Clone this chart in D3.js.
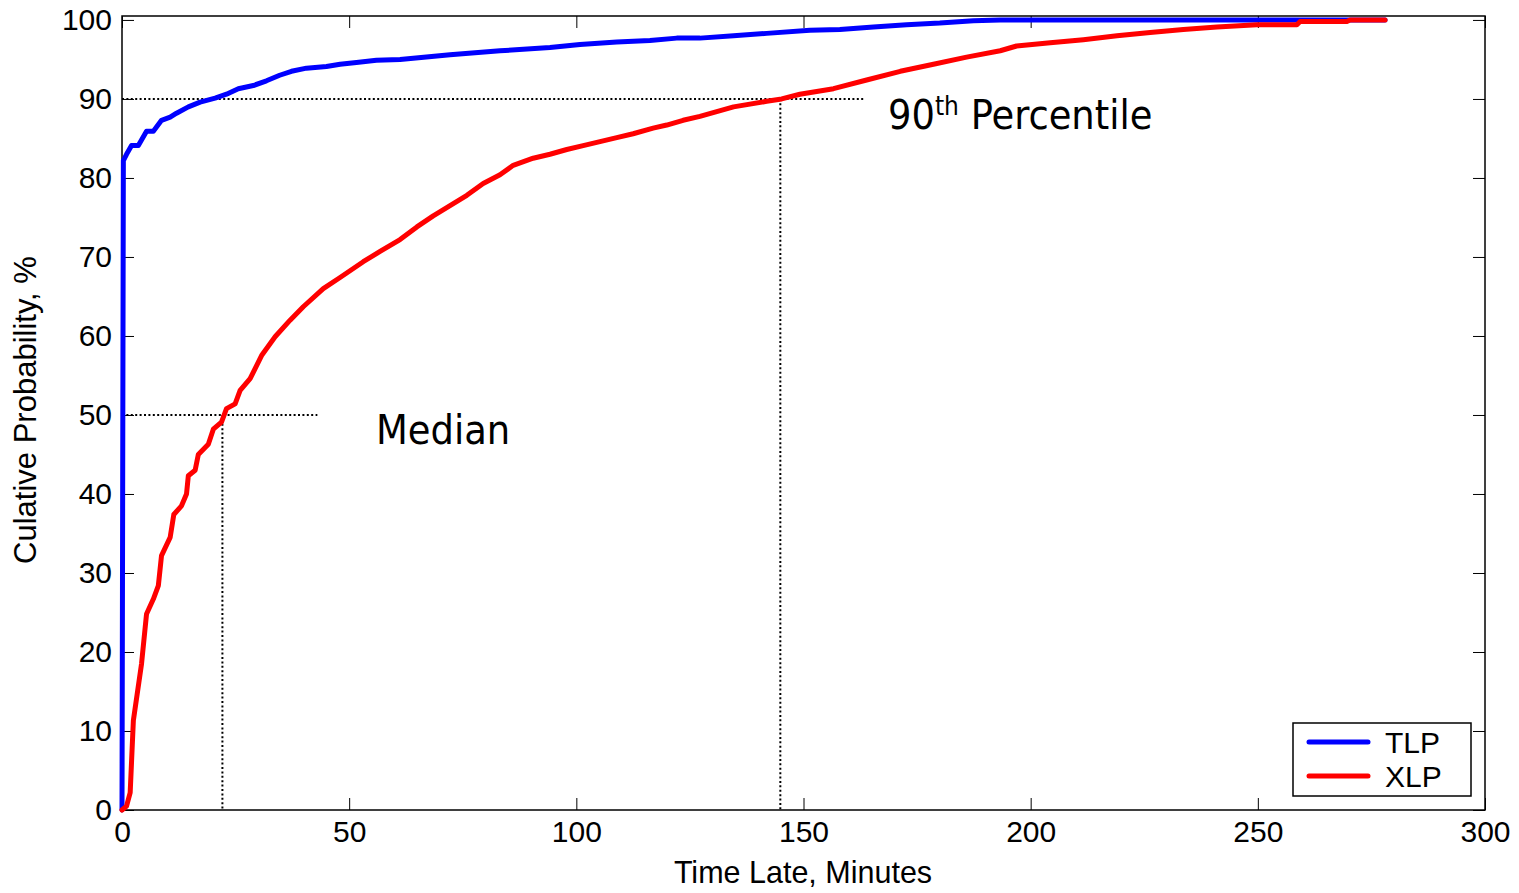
<!DOCTYPE html>
<html>
<head>
<meta charset="utf-8">
<script src="https://cdn.jsdelivr.net/npm/d3@7"></script>
<style>
  body { margin: 0; background: #fff; }
  svg text { font-family: "Liberation Sans", Arial, sans-serif; }
</style>
</head>
<body>
<svg id="chart" width="1519" height="893"></svg>
<script>
// empirical CDF readings [minutes late, cumulative %]
const tlp = [[0,0],[0.3,82.2],[1,83],[2.1,84.1],[3.6,84.1],[5.4,85.9],[6.9,85.9],[8.7,87.3],[10.6,87.7],[12,88.2],
  [14.6,89.0],[17.2,89.6],[20.5,90.1],[23,90.6],[25.6,91.3],[28.9,91.7],[31.8,92.3],[34.7,93.0],[37.3,93.5],[40.6,93.9],
  [45,94.1],[48,94.4],[51.6,94.6],[56,94.9],[61.2,95.0],[72.2,95.6],[83.2,96.1],[94.2,96.5],[100.8,96.9],[108.9,97.2],
  [116.2,97.4],[122.1,97.7],[127.2,97.7],[134.6,98.0],[141.9,98.3],[151.4,98.7],[158,98.8],[165.4,99.1],[172.7,99.4],
  [180,99.6],[187.4,99.9],[193.3,100],[278,100]]
const xlp = [[0,0],[1,0.5],[1.8,2.2],[2.5,11.3],[4.3,18.5],[5.4,24.8],[6.9,26.7],[8,28.4],[8.7,32.2],[10.6,34.5],
  [11.4,37.4],[13.1,38.5],[14.2,40.0],[14.6,42.3],[16.1,43.0],[16.8,45.0],[19,46.3],[20.1,48.2],[21.9,49.1],[23,50.8],
  [24.9,51.4],[26,53.1],[28.2,54.6],[30.8,57.6],[33.7,59.9],[37,62.0],[39.9,63.7],[44.3,66.0],[48,67.4],[53.1,69.4],
  [56.8,70.7],[61.2,72.2],[64.9,73.8],[68.5,75.2],[72.2,76.5],[75.9,77.8],[79.5,79.3],[83.2,80.4],[86.1,81.6],[90.5,82.5],
  [94.2,83.0],[97.9,83.6],[101.5,84.1],[105.2,84.6],[108.9,85.1],[112.5,85.6],[116.9,86.3],[119.9,86.7],[123.5,87.3],
  [127.2,87.8],[134.6,89.0],[141.9,89.7],[145.2,90.0],[149.2,90.6],[156.6,91.3],[163.9,92.4],[171.3,93.5],[178.6,94.4],
  [185.9,95.3],[193.3,96.1],[196.9,96.7],[204.3,97.1],[211.6,97.5],[219,98.0],[226.3,98.4],[233.6,98.8],[241,99.1],
  [249.8,99.4],[258.6,99.4],[259.3,99.8],[269.6,99.8],[270.3,100],[278,100]]
const xTicks = [0, 50, 100, 150, 200, 250, 300]
const yTicks = [0, 10, 20, 30, 40, 50, 60, 70, 80, 90, 100]
const series = [{ name: "TLP", values: tlp, color: "#0000ff" }, { name: "XLP", values: xlp, color: "#ff0000" }]
// guide lines: [x, y, horizontal end x]
const median = [22.1, 50, 43]
const p90 = [144.9, 90, 163.4]

const svg = d3.select("#chart")
const mLeft = 122, mRight = 1485, mTop = 16, mBottom = 810

const x = d3.scaleLinear().domain([0, 300]).range([mLeft, mRight])
const y = d3.scaleLinear().domain([0, 100.5]).range([mBottom, mTop])

// frame
svg.append("rect")
  .attr("x", mLeft).attr("y", mTop)
  .attr("width", mRight - mLeft).attr("height", mBottom - mTop)
  .attr("fill", "none").attr("stroke", "#000").attr("stroke-width", 1.5)

function tickAxis(axis, tr) {
  const g = svg.append("g").attr("transform", tr).call(axis)
  g.select(".domain").remove()
  g.selectAll("line").attr("stroke", "#000").attr("stroke-width", 1)
  g.selectAll("text").attr("font-size", "30px").attr("fill", "#000")
  return g
}
tickAxis(d3.axisBottom(x).tickValues(xTicks).tickSize(-12).tickPadding(11).tickFormat(d3.format("d")), `translate(0,${mBottom})`)
tickAxis(d3.axisTop(x).tickValues(xTicks).tickSize(-12).tickFormat(""), `translate(0,${mTop})`)
tickAxis(d3.axisLeft(y).tickValues(yTicks).tickSize(-12).tickPadding(10).tickFormat(d3.format("d")), `translate(${mLeft},0)`)
tickAxis(d3.axisRight(y).tickValues(yTicks).tickSize(-12).tickFormat(""), `translate(${mRight},0)`)

// dotted guides
function guide(g) {
  svg.append("line").attr("x1", x(0)).attr("x2", x(g[2])).attr("y1", y(g[1])).attr("y2", y(g[1]))
    .attr("stroke", "#000").attr("stroke-width", 2).attr("stroke-dasharray", "2,2.4")
  svg.append("line").attr("x1", x(g[0])).attr("x2", x(g[0])).attr("y1", y(g[1])).attr("y2", y(0))
    .attr("stroke", "#000").attr("stroke-width", 2).attr("stroke-dasharray", "2,2.4")
}
guide(median)
guide(p90)

const line = d3.line().x(d => x(d[0])).y(d => y(d[1]))
series.forEach(s => {
  svg.append("path").datum(s.values)
    .attr("d", line)
    .attr("fill", "none").attr("stroke", s.color).attr("stroke-width", 5)
    .attr("stroke-linejoin", "round").attr("stroke-linecap", "round")
})

// annotations
svg.append("text").text("Median")
  .attr("x", 376).attr("y", 444)
  .style("font-family", "'DejaVu Sans Condensed', 'DejaVu Sans', sans-serif")
  .attr("font-size", "41px")
const t90 = svg.append("text").attr("x", 888).attr("y", 129)
  .style("font-family", "'DejaVu Sans Condensed', 'DejaVu Sans', sans-serif")
  .attr("font-size", "41px")
t90.append("tspan").text("90")
t90.append("tspan").text("th").attr("font-size", "26px").attr("dy", -14)
t90.append("tspan").text(" Percentile").attr("dy", 14)

// axis titles
svg.append("text").text("Time Late, Minutes")
  .attr("x", 803).attr("y", 883)
  .attr("text-anchor", "middle").attr("font-size", "30.5px")
svg.append("text").text("Culative Probability, %")
  .attr("transform", `translate(36,410) rotate(-90)`)
  .attr("text-anchor", "middle").attr("font-size", "31px")

// legend
const lg = svg.append("g").attr("transform", "translate(1293,723)")
lg.append("rect").attr("width", 178).attr("height", 73)
  .attr("fill", "#fff").attr("stroke", "#000").attr("stroke-width", 1.5)
series.forEach((s, i) => {
  const ly = 19 + i * 34
  lg.append("line").attr("x1", 16).attr("x2", 75).attr("y1", ly).attr("y2", ly)
    .attr("stroke", s.color).attr("stroke-width", 5).attr("stroke-linecap", "round")
  lg.append("text").text(s.name).attr("x", 92).attr("y", ly + 11).attr("font-size", "30px")
})
</script>
</body>
</html>
